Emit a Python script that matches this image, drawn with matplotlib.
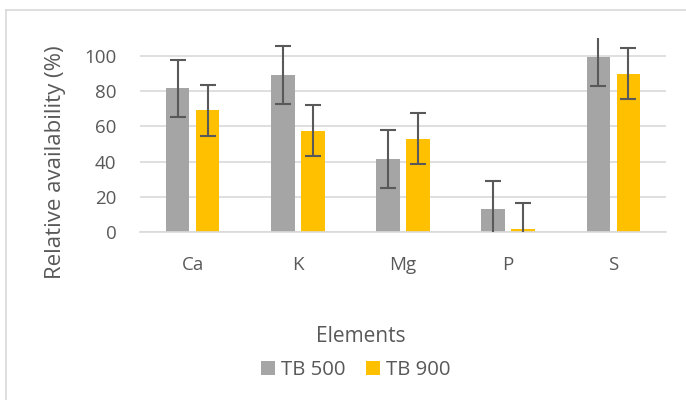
import numpy as np
import matplotlib
matplotlib.use("Agg")
import matplotlib.pyplot as plt
from matplotlib.lines import Line2D

elements = ["Ca", "K", "Mg", "P", "S"]
tb500 = [81.6, 89.0, 41.3, 12.9, 99.4]
tb500_err = [16.3, 16.5, 16.4, 16.3, 16.3]
tb900 = [69.1, 57.6, 53.0, 1.9, 89.9]
tb900_err = [14.6, 14.5, 14.5, 14.7, 14.5]

txt = "#595959"
plt.rcParams["font.family"] = ["Open Sans", "DejaVu Sans"]

fig = plt.figure(figsize=(6.86, 4.0), dpi=100)
ax = fig.add_axes([140/686, 1-232/400, 526/686, 193.6/400])

x = np.arange(len(elements))
w = 0.223
off = (w + 0.062) / 2
ax.bar(x - off, tb500, w, color="#A5A5A5", label="TB 500", zorder=2)
ax.bar(x + off, tb900, w, color="#FFC000", label="TB 900", zorder=2)
ekw = dict(fmt="none", ecolor="#595959", elinewidth=1.5, capsize=6, capthick=1.5, zorder=3)
ax.errorbar(x - off, tb500, yerr=tb500_err, **ekw)
ax.errorbar(x + off, tb900, yerr=tb900_err, **ekw)

ax.set_xlim(-0.5, len(elements) - 0.5)
ax.set_ylim(0, 110)
ax.set_yticks(range(0, 101, 20))
ax.set_xticks(x)
ax.set_xticklabels(elements)
ax.yaxis.grid(True, color="#D9D9D9", linewidth=1.2, zorder=0)
ax.set_axisbelow(True)
for s in ["top", "right", "left"]:
    ax.spines[s].set_visible(False)
ax.spines["bottom"].set_color("#D9D9D9")
ax.spines["bottom"].set_linewidth(1.2)
ax.tick_params(length=0, labelsize=13.5, colors=txt)
ax.tick_params(axis="y", pad=17)
ax.tick_params(axis="x", pad=17)

fig.text(55/686, 1 - 162/400, "Relative availability (%)", rotation=90,
         ha="center", va="center", fontsize=16, color=txt)
fig.text(361/686, 1 - 337/400, "Elements", ha="center", va="center", fontsize=15, color=txt)
fig.legend(loc="center", bbox_to_anchor=(356/686, 1 - 370/400), ncol=2, frameon=False,
           fontsize=14.7, labelcolor=txt, handlelength=0.67, handleheight=0.67,
           handletextpad=0.31, columnspacing=1.0)

# chart area border (partially cropped in the reference)
fig.add_artist(Line2D([6/686, 6/686], [0, 1 - 10/400], transform=fig.transFigure,
                      color="#D9D9D9", linewidth=1.2))
fig.add_artist(Line2D([6/686, 1], [1 - 10/400, 1 - 10/400], transform=fig.transFigure,
                      color="#D9D9D9", linewidth=1.2))

fig.savefig("out.png", dpi=100)
